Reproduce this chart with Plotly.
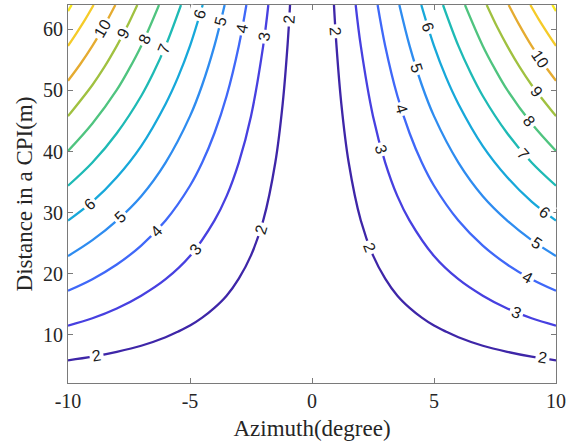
import plotly.graph_objects as go

# ---- contour lines (azimuth magnitude in degree, distance in m) ----
az_2 = [0.9, 1.0, 1.2, 1.5, 2.0, 2.5, 3.0, 3.5, 4.0, 4.5, 5.0, 5.5, 6.0, 7.0, 8.0, 9.0, 10.0]
dist_2 = [64.0, 57.5, 47.9, 38.3, 28.7, 23.0, 19.2, 16.4, 14.4, 12.8, 11.5, 10.5, 9.6, 8.2, 7.2, 6.4, 5.8]
az_3 = [1.79, 2.0, 2.5, 3.0, 3.5, 4.0, 5.0, 6.0, 7.0, 8.0, 9.0, 10.0]
dist_3 = [64.0, 57.3, 45.8, 38.2, 32.7, 28.7, 22.9, 19.1, 16.4, 14.3, 12.7, 11.5]
az_4 = [2.69, 3.0, 3.5, 4.0, 4.5, 5.0, 6.0, 7.0, 8.0, 9.0, 10.0]
dist_4 = [64.0, 57.3, 49.1, 43.0, 38.2, 34.4, 28.7, 24.6, 21.5, 19.1, 17.2]
az_5 = [3.58, 4.0, 4.5, 5.0, 6.0, 7.0, 8.0, 9.0, 10.0]
dist_5 = [64.0, 57.3, 50.9, 45.8, 38.2, 32.7, 28.7, 25.5, 22.9]
az_6 = [4.48, 5.0, 5.5, 6.0, 7.0, 8.0, 9.0, 10.0]
dist_6 = [64.0, 57.3, 52.1, 47.8, 40.9, 35.8, 31.8, 28.7]
az_7 = [5.37, 6.0, 6.5, 7.0, 8.0, 9.0, 10.0]
dist_7 = [64.0, 57.3, 52.9, 49.1, 43.0, 38.2, 34.4]
az_8 = [6.27, 7.0, 7.5, 8.0, 9.0, 10.0]
dist_8 = [64.0, 57.3, 53.5, 50.1, 44.6, 40.1]
az_9 = [7.16, 7.6, 8.0, 8.5, 9.0, 10.0]
dist_9 = [64.0, 60.3, 57.3, 53.9, 50.9, 45.8]
az_10 = [8.06, 8.5, 9.0, 9.5, 10.0]
dist_10 = [64.0, 60.7, 57.3, 54.3, 51.6]
az_11 = [8.95, 9.3, 9.65, 10.0]
dist_11 = [64.0, 61.6, 59.4, 57.3]
az_12 = [9.85, 10.0]
dist_12 = [64.0, 63.0]

levels = [2, 3, 4, 5, 6, 7, 8, 9, 10, 11, 12]
level_az = [az_2, az_3, az_4, az_5, az_6, az_7, az_8, az_9, az_10, az_11, az_12]
level_dist = [dist_2, dist_3, dist_4, dist_5, dist_6, dist_7, dist_8, dist_9, dist_10, dist_11, dist_12]
level_colors = ["#3e26a8", "#4740e0", "#3f68f8", "#2e8cf0", "#17a8da", "#1ebab5",
                "#4fc47f", "#a0c140", "#e5ab30", "#f5cb28", "#f8e81c"]

# ---- contour labels ----
label_text = ["10", "9", "8", "7", "6", "5", "4", "3", "2", "6", "5", "4", "3", "2", "2",
              "2", "6", "5", "4", "3", "10", "9", "8", "7", "2", "6", "5", "4", "3", "2"]
label_az = [-8.58, -7.73, -6.87, -6.05, -4.59, -3.73, -2.86, -1.95, -0.93,
            -9.13, -7.83, -6.39, -4.78, -2.10, -8.83,
            0.96, 4.75, 4.27, 3.66, 2.84, 9.36, 9.20, 8.92, 8.68, 2.36,
            9.54, 9.22, 8.85, 8.38, 9.45]
label_dist = [60.1, 59.3, 58.4, 56.8, 62.4, 61.4, 60.1, 58.8, 61.6,
              31.4, 29.3, 26.9, 24.0, 27.3, 6.6,
              59.7, 60.3, 53.7, 47.0, 40.4, 55.1, 49.8, 45.0, 39.6, 24.3,
              30.0, 24.9, 19.4, 13.7, 6.2]
label_angle = [-60, -62, -65, -67, -73, -76, -79, -82, -86,
               -41, -43, -46, -51, -73, -10,
               86, 72, 72, 73, 74, 56, 54, 52, 49, 69,
               38, 34, 29, 22, 9]

x_ticks = [-10, -5, 0, 5, 10]
x_tick_labels = ["-10", "-5", "0", "5", "10"]
y_ticks = [10, 20, 30, 40, 50, 60]
y_tick_labels = ["10", "20", "30", "40", "50", "60"]

fig = go.Figure()
for lev, az, dist, col in zip(levels, level_az, level_dist, level_colors):
    for side in (-1, 1):
        fig.add_trace(go.Scatter(
            x=[side * a for a in az], y=dist, mode="lines",
            line=dict(color=col, width=2.3, shape="spline", smoothing=1.0),
            showlegend=False, hoverinfo="skip"))

for t, ax, dy, ang in zip(label_text, label_az, label_dist, label_angle):
    fig.add_annotation(x=ax, y=dy, text=t, showarrow=False, textangle=ang,
                       bgcolor="white", borderpad=2,
                       font=dict(family="Liberation Sans, Arial", size=16, color="#1a1a1a"))

axis_common = dict(showgrid=False, zeroline=False, showline=True, linecolor="#7a7a7a",
                   linewidth=1, mirror="ticks", ticks="inside", ticklen=5,
                   tickcolor="#7a7a7a",
                   tickfont=dict(family="Liberation Serif, Times New Roman", size=20, color="#262626"))

fig.update_layout(
    width=586, height=447,
    margin=dict(l=68, r=30, t=5, b=64),
    paper_bgcolor="white", plot_bgcolor="white",
    xaxis=dict(range=[-10, 10], tickvals=x_ticks, ticktext=x_tick_labels,
               title=dict(text="Azimuth(degree)", standoff=8,
                          font=dict(family="Liberation Serif, Times New Roman", size=23, color="#262626")),
               **axis_common),
    yaxis=dict(range=[2.1, 64], tickvals=y_ticks, ticktext=y_tick_labels,
               title=dict(text="Distance in a CPI(m)", standoff=3,
                          font=dict(family="Liberation Serif, Times New Roman", size=23, color="#262626")),
               **axis_common),
)

fig.write_html("out.html")
